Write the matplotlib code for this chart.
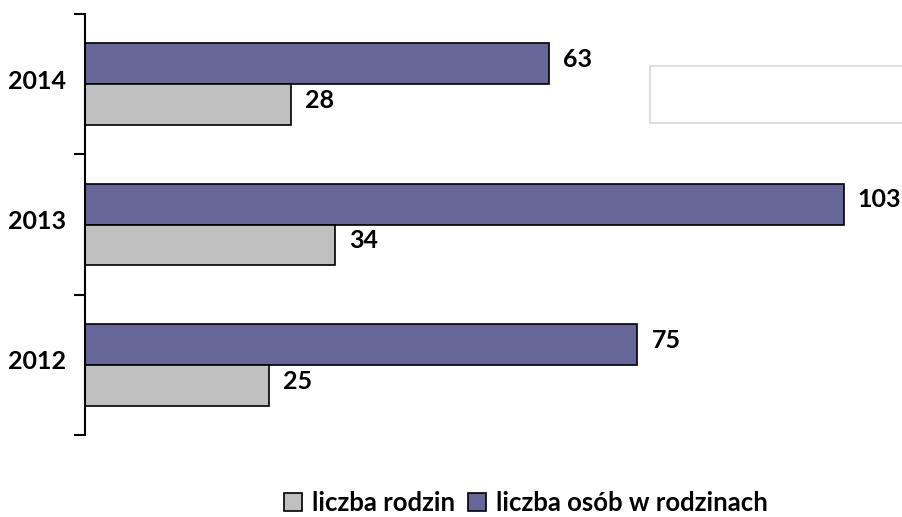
import matplotlib.pyplot as plt
from matplotlib.patches import Rectangle
import numpy as np

plt.rcParams['font.family'] = ['Lato', 'DejaVu Sans']

# Data
years = ['2012', '2013', '2014']
rodziny = [25, 34, 28]
osoby = [75, 103, 63]

col_osoby = '#666699'
col_rodziny = '#c0c0c0'

fig = plt.figure(figsize=(9.03, 5.17), dpi=100)
ax = fig.add_axes([85 / 903, 1 - 435 / 517, 1 - 85 / 903, 421 / 517])

y = np.arange(len(years))
h = 0.292
ax.barh(y + h / 2, osoby, height=h, color=col_osoby, edgecolor='black', linewidth=1.2,
        label='liczba osób w rodzinach')
ax.barh(y - h / 2, rodziny, height=h, color=col_rodziny, edgecolor='black', linewidth=1.2,
        label='liczba rodzin')

# value labels, sitting a touch above bar centre
off = 0.03
for i in range(len(years)):
    ax.text(osoby[i] + 1.9, y[i] + h / 2 + off, str(osoby[i]), va='center', ha='left',
            fontsize=18, fontweight='bold')
    ax.text(rodziny[i] + 1.9, y[i] - h / 2 + off, str(rodziny[i]), va='center', ha='left',
            fontsize=18, fontweight='bold')

ax.set_xlim(0, 111.06)
ax.set_ylim(-0.5, 2.5)

# ticks at category boundaries, labels at centres
ax.set_yticks(np.arange(-0.5, 3, 1))
ax.set_yticklabels([])
ax.set_yticks(y + 0.035, minor=True)
ax.set_yticklabels(years, minor=True, fontsize=18, fontweight='bold')
ax.tick_params(axis='y', which='major', length=8, width=1.5, direction='out')
ax.tick_params(axis='y', which='minor', length=0, pad=14)
ax.set_xticks([])

for s in ['top', 'right', 'bottom']:
    ax.spines[s].set_visible(False)
ax.spines['left'].set_linewidth(1.5)

handles, labels = ax.get_legend_handles_labels()
leg = fig.legend(handles[::-1], labels[::-1], loc='center', bbox_to_anchor=(526 / 903, 1 - 503 / 517),
                 ncol=2, frameon=False, handlelength=0.7, handleheight=0.7, handletextpad=0.4,
                 columnspacing=0.5, prop={'size': 18.5, 'weight': 'bold'})

# empty box in the upper right
fig.patches.append(Rectangle((650 / 903, 1 - 123 / 517), 260 / 903, 57 / 517,
                             transform=fig.transFigure, facecolor='white',
                             edgecolor='#d9d9d9', linewidth=1.2))

fig.savefig('out.png', dpi=100)
